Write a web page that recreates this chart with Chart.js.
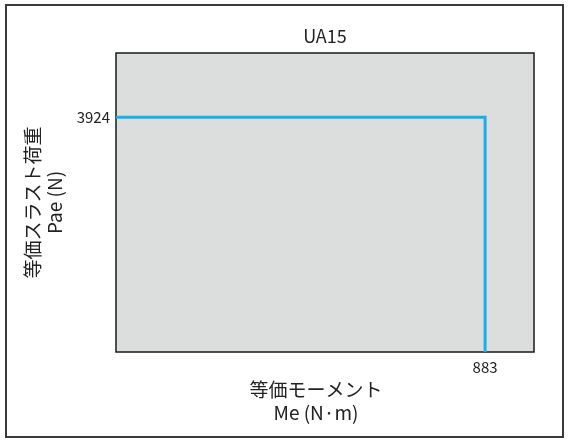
<!DOCTYPE html>
<html>
<head>
<meta charset="utf-8">
<script src="https://cdn.jsdelivr.net/npm/chart.js@4"></script>
<style>
  html, body { margin: 0; padding: 0; background: #fff; }
  #wrap { width: 572px; height: 441px; }
</style>
</head>
<body>
<div id="wrap"><canvas id="chart" width="572" height="441"></canvas></div>
<script>
// チャートのデータ
const chartTitle = 'UA15';
const seriesX = [0, 883, 883];
const seriesY = [3924, 3924, 0];
const xTicks = [883];
const yTicks = [3924];
const xMax = 1000;
const yMax = 5000;
const xTitle = ['等価モーメント', 'Me (N·m)'];
const yTitle = ['等価スラスト荷重', 'Pae (N)'];

const FONT = '"Noto Sans CJK JP", "Noto Sans", sans-serif';

// 背景・枠・タイトル
const framePlugin = {
    id: 'frame',
    beforeDraw(chart) {
        const ctx = chart.ctx;
        const a = chart.chartArea;
        ctx.save();
        ctx.fillStyle = '#fff';
        ctx.fillRect(0, 0, chart.width, chart.height);
        ctx.strokeStyle = '#3a3a3a';
        ctx.lineWidth = 2;
        ctx.strokeRect(6, 5, 557, 432);
        ctx.fillStyle = '#dcdddd';
        ctx.fillRect(a.left, a.top, a.right - a.left, a.bottom - a.top);
        ctx.strokeStyle = '#1a1a1a';
        ctx.lineWidth = 1.5;
        ctx.strokeRect(a.left, a.top, a.right - a.left, a.bottom - a.top);
        ctx.restore();
    },
    afterDraw(chart) {
        const ctx = chart.ctx;
        const a = chart.chartArea;
        ctx.save();
        ctx.fillStyle = '#222';
        ctx.textAlign = 'center';
        ctx.textBaseline = 'middle';
        ctx.font = '18px ' + FONT;
        ctx.fillText(chartTitle, (a.left + a.right) / 2, 36);
        // X軸タイトル
        ctx.font = '19px ' + FONT;
        const cx = (a.left + a.right) / 2 - 9;
        xTitle.forEach((t, i) => ctx.fillText(t, cx, 390 + i * 23));
        ctx.restore();
    }
};

new Chart(document.getElementById('chart'), {
    type: 'scatter',
    data: {
        datasets: [{
            data: seriesX.map((x, i) => ({ x: x, y: seriesY[i] })),
            showLine: true,
            borderColor: '#15b0ea',
            borderWidth: 3,
            pointRadius: 0,
            fill: false
        }]
    },
    options: {
        responsive: false,
        animation: false,
        layout: { padding: { left: 0, right: 38, top: 53, bottom: 0 } },
        plugins: {
            legend: { display: false },
            tooltip: { enabled: false },
            title: { display: false }
        },
        scales: {
            x: {
                type: 'linear',
                min: 0,
                max: xMax,
                grid: { display: false, drawTicks: false },
                border: { display: false },
                afterBuildTicks: scale => { scale.ticks = xTicks.map(v => ({ value: v })); },
                afterFit: scale => { scale.height = 89; },
                ticks: {
                    color: '#222',
                    padding: 6,
                    maxRotation: 0,
                    font: { family: FONT, size: 15 },
                    callback: v => String(v)
                },
                title: { display: false }
            },
            y: {
                type: 'linear',
                min: 0,
                max: yMax,
                grid: { display: false, drawTicks: false },
                border: { display: false },
                afterBuildTicks: scale => { scale.ticks = yTicks.map(v => ({ value: v })); },
                afterFit: scale => { scale.width = 116; },
                ticks: {
                    color: '#222',
                    padding: 6,
                    font: { family: FONT, size: 15 },
                    callback: v => String(v)
                },
                title: {
                    display: true,
                    text: yTitle,
                    color: '#222',
                    font: { family: FONT, size: 19, lineHeight: 1.16 },
                    padding: { top: 22, bottom: 0 }
                }
            }
        }
    },
    plugins: [framePlugin]
});
</script>
</body>
</html>
